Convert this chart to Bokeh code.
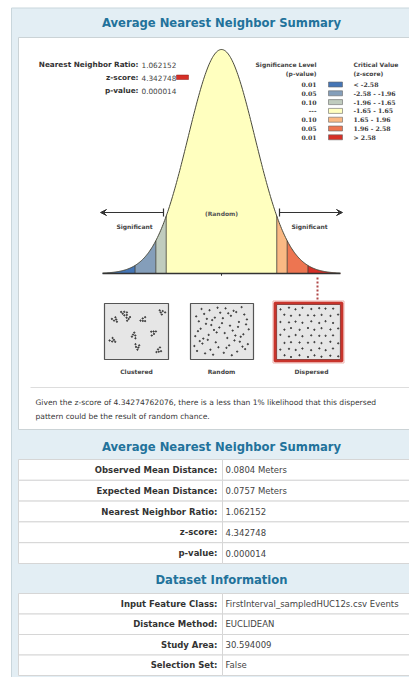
import numpy as np
from bokeh.plotting import figure
from bokeh.models import Range1d, Arrow, VeeHead, TeeHead
from bokeh.core.properties import value
from bokeh.embed import file_html
from bokeh.resources import INLINE

# ---------------- data ----------------
title_main = "Average Nearest Neighbor Summary"
title_data = "Dataset Information"

nn_ratio = "1.062152"
z_score = "4.342748"
p_value = "0.000014"

crit_breaks = [-3.55, -2.58, -1.96, -1.65, 1.65, 1.96, 2.58, 3.55]
band_colors = ["#4575B5", "#849EBA", "#C0CCBE", "#FFFFBF", "#FAB984", "#ED7551", "#D62F27"]
legend_p = ["0.01", "0.05", "0.10", "---", "0.10", "0.05", "0.01"]
legend_z = ["< -2.58", "-2.58 - -1.96", "-1.96 - -1.65", "-1.65 - 1.65", "1.65 - 1.96", "1.96 - 2.58", "> 2.58"]

pattern_names = ["Clustered", "Random", "Dispersed"]
sentence = ["Given the z-score of 4.34274762076, there is a less than 1% likelihood that this dispersed",
            "pattern could be the result of random chance."]

summary_labels = ["Observed Mean Distance:", "Expected Mean Distance:", "Nearest Neighbor Ratio:", "z-score:", "p-value:"]
summary_values = ["0.0804 Meters", "0.0757 Meters", "1.062152", "4.342748", "0.000014"]
dataset_labels = ["Input Feature Class:", "Distance Method:", "Study Area:", "Selection Set:"]
dataset_values = ["FirstInterval_sampledHUC12s.csv Events", "EUCLIDEAN", "30.594009", "False"]

# ---------------- styles ----------------
FONT = value("DejaVu Sans")
SERIF = value("DejaVu Serif")
TITLE_C = "#22729B"
PANEL_C = "#E3EEF4"
PANEL_LINE = "#C9D6DC"
TXT = "#333333"

W, H = 409, 677
X0, Y0 = 0, 0
p = figure(width=W, height=H, x_range=Range1d(X0, X0 + W), y_range=Range1d(Y0 + H, Y0),
           x_axis_type=None, y_axis_type=None, toolbar_location=None, output_backend="svg",
           min_border=0, outline_line_color=None, background_fill_color="white",
           border_fill_color="white")
p.grid.visible = False

# bell-curve coordinate system: z units horizontally, normalised density vertically
ZC, ZPX = 221.0, 33.5       # centre pixel, pixels per z unit
BASE, PEAK = 273.0, 224.0   # baseline pixel, peak height in px
p.extra_x_ranges = {"z": Range1d((X0 - ZC) / ZPX, (X0 + W - ZC) / ZPX)}
p.extra_y_ranges = {"d": Range1d((BASE - (Y0 + H)) / PEAK, (BASE - Y0) / PEAK)}

# ---------------- panels ----------------
p.quad(left=[11], right=[420], top=[7.5], bottom=[690], fill_color=PANEL_C, line_color=PANEL_LINE, line_width=1)
p.quad(left=[18], right=[420], top=[37], bottom=[429], fill_color="white", line_color="#CBD3D6", line_width=1)

def title(txt, y):
    p.text(x=[221], y=[y], text=[txt], text_font=FONT, text_font_style="bold", text_font_size="11.6px",
           text_color=TITLE_C, text_align="center", text_baseline="middle")

title(title_main, 22)
title(title_main, 446)
title(title_data, 579)

# ---------------- bell curve ----------------
for a, b, c in zip(crit_breaks[:-1], crit_breaks[1:], band_colors):
    zz = np.linspace(a, b, 60)
    p.varea(x=zz, y1=np.zeros_like(zz), y2=np.exp(-zz ** 2 / 2), fill_color=c,
            x_range_name="z", y_range_name="d")
zz = np.linspace(crit_breaks[0], crit_breaks[-1], 300)
p.line(zz, np.exp(-zz ** 2 / 2), line_color="#4a4a3c", line_width=1, x_range_name="z", y_range_name="d")
inner = np.array(crit_breaks[1:-1])
p.segment(x0=inner, y0=np.zeros_like(inner), x1=inner, y1=np.exp(-inner ** 2 / 2),
          line_color="#3c3c32", line_width=0.8, x_range_name="z", y_range_name="d")
p.segment(x0=[crit_breaks[0]], y0=[0], x1=[crit_breaks[-1]], y1=[0], line_color="#333333",
          line_width=1.5, x_range_name="z", y_range_name="d")
p.segment(x0=[0], y0=[0], x1=[0], y1=[-0.01], line_color="#333333", line_width=1,
          x_range_name="z", y_range_name="d")

# arrows and labels
p.add_layout(Arrow(start=TeeHead(size=8, line_width=1.2, line_color="#333"),
                   end=VeeHead(size=6, fill_color="#333", line_color="#333"),
                   x_start=163, y_start=212, x_end=100, y_end=212, line_width=1.2, line_color="#333"))
p.add_layout(Arrow(start=TeeHead(size=8, line_width=1.2, line_color="#333"),
                   end=VeeHead(size=6, fill_color="#333", line_color="#333"),
                   x_start=279, y_start=212, x_end=342, y_end=212, line_width=1.2, line_color="#333"))
p.text(x=[134, 309], y=[226, 226], text=["Significant", "Significant"], text_font=FONT,
       text_font_style="bold", text_font_size="6px", text_color="#444", text_align="center",
       text_baseline="middle")
p.text(x=[221], y=[213], text=["(Random)"], text_font=FONT, text_font_style="bold",
       text_font_size="6px", text_color="#555", text_align="center", text_baseline="middle")

# dotted connector to dispersed icon
p.segment(x0=[317], y0=[277], x1=[317], y1=[299], line_color="#B04848", line_width=2, line_dash="2 2")

# ---------------- top-left stats ----------------
p.text(x=[138] * 3, y=[64, 77, 90], text=["Nearest Neighbor Ratio:", "z-score:", "p-value:"],
       text_font=FONT, text_font_style="bold", text_font_size="7.3px", text_color=TXT,
       text_align="right", text_baseline="middle")
p.text(x=[141] * 3, y=[64, 77, 90], text=[nn_ratio, z_score, p_value], text_font=FONT,
       text_font_size="7.3px", text_color="#444", text_align="left", text_baseline="middle")
p.quad(left=[176], right=[188], top=[74.5], bottom=[79], fill_color="#D62F27", line_color="#8a1a16", line_width=0.5)

# ---------------- legend ----------------
p.text(x=[316, 316], y=[64, 73], text=["Significance Level", "(p-value)"], text_font=FONT,
       text_font_style="bold", text_font_size="6px", text_color="#444", text_align="right",
       text_baseline="middle")
p.text(x=[353, 353], y=[64, 73], text=["Critical Value", "(z-score)"], text_font=FONT,
       text_font_style="bold", text_font_size="6px", text_color="#444", text_align="left",
       text_baseline="middle")
ly = [84 + 8.8 * i for i in range(len(legend_p))]
p.text(x=[316] * len(ly), y=ly, text=legend_p, text_font=SERIF, text_font_style="bold",
       text_font_size="6.2px", text_color="#3a3a3a", text_align="right", text_baseline="middle")
p.text(x=[353] * len(ly), y=ly, text=legend_z, text_font=SERIF, text_font_style="bold",
       text_font_size="6.2px", text_color="#3a3a3a", text_align="left", text_baseline="middle")
p.quad(left=[328] * len(ly), right=[342] * len(ly), top=[y - 2.5 for y in ly], bottom=[y + 2.5 for y in ly],
       fill_color=band_colors, line_color="#666", line_width=0.6)

# ---------------- pattern icons ----------------
boxes = [(104, 168, 303, 359), (190, 253, 303, 359), (276, 340, 304, 359)]
p.quad(left=[b[0] for b in boxes], right=[b[1] for b in boxes], top=[b[2] for b in boxes],
       bottom=[b[3] for b in boxes], fill_color="#E6E6E6", line_color="#555", line_width=1.2)
p.quad(left=[274.5], right=[341.5], top=[302.5], bottom=[360.5], fill_color=None,
       line_color="#C8342C", line_width=3.2)
p.quad(left=[272.5], right=[343.5], top=[300.5], bottom=[362.5], fill_color=None,
       line_color="#EDB3AE", line_width=1)

def halton(i, b):
    f, r = 1.0, 0.0
    while i > 0:
        f /= b
        r += f * (i % b)
        i //= b
    return r

# clustered
cl_centres = [(0.12, 0.25), (0.35, 0.22), (0.62, 0.26), (0.95, 0.1), (0.45, 0.58), (0.8, 0.52),
              (0.08, 0.68), (0.52, 0.82), (0.9, 0.9), (0.27, 0.12)]
cx, cy = [], []
for k, (u, v) in enumerate(cl_centres):
    for j in range(5):
        ang = j * 2.39996 + k
        r = 1.0 + 0.6 * j
        cx.append(104 + 4 + u * 56 + r * np.cos(ang))
        cy.append(303 + 4 + v * 48 + r * np.sin(ang))
# random
rx = [190 + 3 + halton(i, 2) * 57 for i in range(1, 62)]
ry = [303 + 3 + halton(i, 3) * 50 for i in range(1, 62)]
# dispersed
dx, dy = [], []
for r in range(8):
    for c in range(8):
        dx.append(276 + 4 + c * 7.6 + (r % 2) * 3.8 + 0.9 * np.sin(r * 3.1 + c * 1.7))
        dy.append(304 + 4 + r * 6.8 + 0.9 * np.cos(r * 2.3 + c * 2.9))
p.scatter(x=cx + rx + dx, y=cy + ry + dy, size=1.3, color="#3c3c3c")

p.text(x=[136, 221, 311], y=[371, 371, 371], text=pattern_names, text_font=FONT, text_font_style="bold",
       text_font_size="6px", text_color="#444", text_align="center", text_baseline="middle")

# separator and sentence
p.segment(x0=[30], y0=[387], x1=[420], y1=[387], line_color="#DDDDDD", line_width=1)
p.text(x=[35, 35], y=[402, 416], text=sentence, text_font=FONT, text_font_size="7.55px",
       text_color=TXT, text_align="left", text_baseline="middle")

# ---------------- tables ----------------
def table(labels, values, top, rh):
    n = len(labels)
    tops = [top + i * rh for i in range(n)]
    bots = [t + rh for t in tops]
    p.quad(left=[18] * n, right=[222] * n, top=tops, bottom=bots, fill_color="white",
           line_color="#D6D6D6", line_width=1)
    p.quad(left=[222] * n, right=[420] * n, top=tops, bottom=bots, fill_color="white",
           line_color="#D6D6D6", line_width=1)
    mids = [t + rh / 2 for t in tops]
    p.text(x=[217] * n, y=mids, text=labels, text_font=FONT, text_font_style="bold",
           text_font_size="8.5px", text_color=TXT, text_align="right", text_baseline="middle")
    p.text(x=[225] * n, y=mids, text=values, text_font=FONT, text_font_size="8.5px",
           text_color="#444", text_align="left", text_baseline="middle")

table(summary_labels, summary_values, 459, 20.8)
table(dataset_labels, dataset_values, 593, 20.5)

open("out.html", "w").write(file_html(p, INLINE))
